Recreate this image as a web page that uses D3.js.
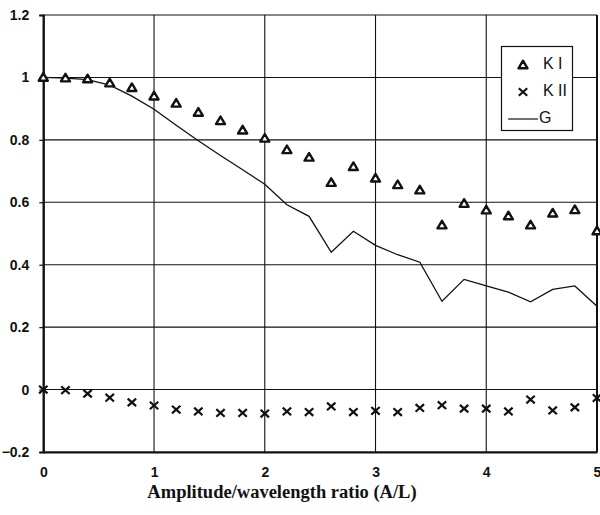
<!DOCTYPE html>
<html><head><meta charset="utf-8">
<script src="https://cdn.jsdelivr.net/npm/d3@7"></script>
<style>body{margin:0;background:#fff}svg{display:block}</style>
</head><body>
<svg id="c" width="600" height="515"></svg>
<script>
const xValues = [0,0.2,0.4,0.6,0.8,1.0,1.2,1.4,1.6,1.8,2.0,2.2,2.4,2.6,2.8,3.0,3.2,3.4,3.6,3.8,4.0,4.2,4.4,4.6,4.8,5.0];
const kI = [1.0,0.998,0.995,0.982,0.967,0.94,0.917,0.888,0.861,0.831,0.805,0.768,0.744,0.663,0.714,0.677,0.656,0.639,0.527,0.596,0.575,0.556,0.527,0.565,0.576,0.508];
const kII = [0,-0.002,-0.013,-0.026,-0.041,-0.051,-0.064,-0.07,-0.075,-0.075,-0.077,-0.07,-0.072,-0.054,-0.072,-0.068,-0.072,-0.059,-0.05,-0.061,-0.061,-0.07,-0.032,-0.067,-0.057,-0.027];
const gVals = [1.0,0.998,0.993,0.975,0.94,0.898,0.847,0.797,0.75,0.704,0.658,0.592,0.555,0.44,0.507,0.462,0.432,0.408,0.283,0.353,0.332,0.312,0.281,0.321,0.332,0.267];
const xTicks = [0,1,2,3,4,5];
const yTicks = [-0.2,0,0.2,0.4,0.6,0.8,1.0,1.2];
const legendLabels = ["K I","K II","G"];
const xTitle = "Amplitude/wavelength ratio (A/L)";

const svg = d3.select("#c");
const x = d3.scaleLinear().domain([0,5]).range([43.3,597]);
const y = d3.scaleLinear().domain([-0.2,1.2]).range([452,15]);
const ink = "#111";

// gridlines
svg.append("g").selectAll("line.h").data(yTicks).join("line")
  .attr("x1",x(0)).attr("x2",x(5)).attr("y1",d=>y(d)).attr("y2",d=>y(d))
  .attr("stroke",ink).attr("stroke-width",1.1);
svg.append("g").selectAll("line.v").data(xTicks).join("line")
  .attr("y1",y(-0.2)).attr("y2",y(1.2)).attr("x1",d=>x(d)).attr("x2",d=>x(d))
  .attr("stroke",ink).attr("stroke-width",1.1);

// axes
const yAxis = svg.append("g").attr("transform",`translate(${x(0)},0)`)
  .call(d3.axisLeft(y).tickValues(yTicks).tickSize(4).tickPadding(10).tickFormat(d=>d3.format("")(+d.toFixed(1))));
const xAxis = svg.append("g").attr("transform",`translate(0,${y(-0.2)})`)
  .call(d3.axisBottom(x).tickValues(xTicks).tickSize(0).tickPadding(15).tickFormat(d3.format("d")));
[yAxis,xAxis].forEach(a=>{
  a.select(".domain").attr("stroke",ink).attr("stroke-width",2.2);
  a.selectAll(".tick line").attr("stroke",ink).attr("stroke-width",1.2);
  a.selectAll("text").attr("fill",ink).style("font-family","'Liberation Sans',Arial,sans-serif")
   .style("font-size","14px").style("font-weight","bold");
});
// right frame
svg.append("line").attr("x1",x(5)).attr("x2",x(5)).attr("y1",y(-0.2)).attr("y2",y(1.2))
  .attr("stroke",ink).attr("stroke-width",2);

// G line
svg.append("path").datum(xValues.map((v,i)=>[v,gVals[i]]))
  .attr("d",d3.line().x(d=>x(d[0])).y(d=>y(d[1])))
  .attr("fill","none").attr("stroke",ink).attr("stroke-width",1.3);

// markers
const tri = "M0,-4.3L4.5,3.3L-4.5,3.3Z";
const cross = "M-4.2,-3.8L4.2,3.8M-4.2,3.8L4.2,-3.8";
svg.append("g").selectAll("path").data(xValues.map((v,i)=>[v,kI[i]])).join("path")
  .attr("d",tri).attr("transform",d=>`translate(${x(d[0])},${y(d[1])})`)
  .attr("fill","#fff").attr("stroke",ink).attr("stroke-width",2.4).attr("stroke-linejoin","round");
svg.append("g").selectAll("path").data(xValues.map((v,i)=>[v,kII[i]])).join("path")
  .attr("d",cross).attr("transform",d=>`translate(${x(d[0])},${y(d[1])})`)
  .attr("fill","none").attr("stroke",ink).attr("stroke-width",2.2);

// legend
const lg = svg.append("g");
lg.append("rect").attr("x",501.5).attr("y",46.5).attr("width",71).attr("height",84)
  .attr("fill","#fff").attr("stroke",ink).attr("stroke-width",1.2);
lg.append("path").attr("d",tri).attr("transform","translate(523,65)")
  .attr("fill","#fff").attr("stroke",ink).attr("stroke-width",2.4).attr("stroke-linejoin","round");
lg.append("path").attr("d",cross).attr("transform","translate(523,92)")
  .attr("fill","none").attr("stroke",ink).attr("stroke-width",2.2);
lg.append("line").attr("x1",508).attr("x2",538).attr("y1",119).attr("y2",119)
  .attr("stroke",ink).attr("stroke-width",1.2);
lg.selectAll("text").data(legendLabels).join("text")
  .attr("x",(d,i)=>i===2?539:543).attr("y",(d,i)=>[63,90,117][i]).attr("dy","0.36em")
  .text(d=>d).attr("fill",ink)
  .style("font-family","'Liberation Sans',Arial,sans-serif").style("font-size","16px");

// x title
svg.append("text").attr("x",282).attr("y",498).attr("text-anchor","middle")
  .text(xTitle).attr("fill",ink)
  .style("font-family","'Liberation Serif','Times New Roman',serif").style("font-size","18.5px").style("font-weight","bold");
</script>
</body></html>
